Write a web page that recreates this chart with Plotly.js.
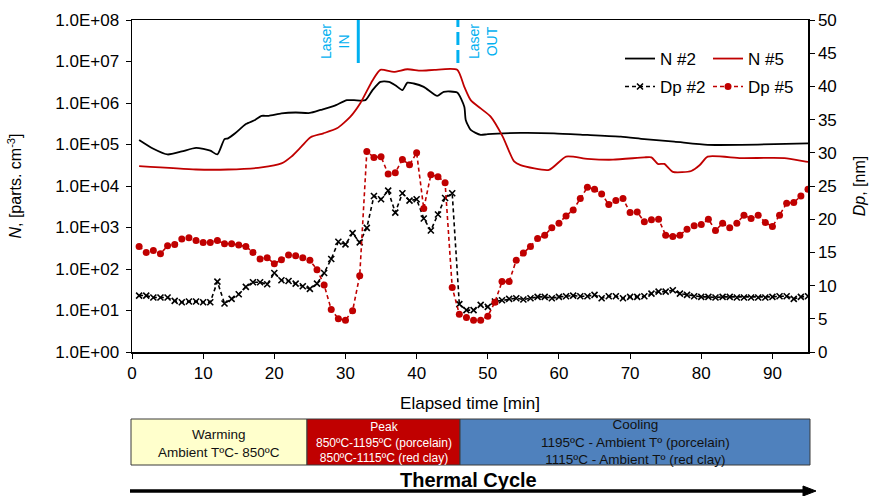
<!DOCTYPE html>
<html><head><meta charset="utf-8">
<script src="https://cdn.plot.ly/plotly-3.0.1.min.js"></script>
<style>html,body{margin:0;padding:0;background:#fff}#chart{width:880px;height:496px}</style>
</head><body><div id="chart"></div>
<script>
// ---- data ----
const timeDp = Array.from({length: 95}, (_, i) => i + 1);
const dp2 = [8.5,8.5,8.2,8.2,8.2,7.7,7.5,7.6,7.6,7.5,7.5,10.6,7.3,8.0,8.7,9.8,10.5,10.5,10.2,11.9,
  10.8,10.7,10.3,9.9,9.5,10.3,11.9,14.0,16.6,16.2,17.9,16.5,18.7,23.5,23.0,24.3,21.0,23.9,22.8,23.0,
  20.1,18.3,20.7,23.2,23.9,7.2,6.3,6.3,7.1,6.8,7.6,7.8,8.0,
  8.1,7.9,8.1,8.3,8.3,8.1,8.3,8.4,8.5,8.4,8.4,8.6,8.1,8.4,8.4,8.1,8.3,8.3,8.4,8.8,9.1,9.1,9.3,8.8,
  8.6,8.4,8.3,8.3,8.2,8.3,8.3,8.2,8.2,8.2,8.2,8.2,8.3,8.4,8.4,8.0,8.3,8.4];
const dp5 = [15.9,15.0,15.3,14.8,16.0,16.2,17.0,17.2,16.8,16.5,16.5,16.8,16.3,16.3,16.1,15.9,15.0,14.0,14.2,13.3,
  13.9,14.6,14.5,14.2,13.8,12.4,10.1,6.4,5.0,4.8,6.2,11.5,30.2,29.3,29.4,26.8,27.0,29.0,28.2,30.0,
  21.6,26.7,26.4,25.5,9.7,5.7,5.2,4.8,4.8,5.4,7.5,10.6,10.6,13.8,14.9,15.9,17.1,17.6,18.7,19.4,
  20.5,21.4,23.1,24.8,24.5,23.8,22.2,22.8,23.1,21.0,21.1,19.6,19.9,20.0,17.6,17.4,17.6,18.5,19.0,19.2,
  20.0,18.3,19.4,18.7,19.4,20.6,20.1,20.6,19.5,18.9,20.6,22.4,22.5,23.5,24.5];
const timeN2 = [1,3,5,7,9,11,12,13,13.5,14.5,16,17.3,18.2,19.2,21,23,25,26.5,28.4,30.2,31.2,32.8,33.8,34.9,36.1,37,38,38.7,39.6,41,42.9,43.8,45.7,46.7,46.9,47.6,49,50,54.6,59.3,64,68.7,72,76.2,80.9,85.6,90.3,95];
const n2 = [1.29e5,7.9e4,5.75e4,6.8e4,8.3e4,7.1e4,5.75e4,1.35e5,1.41e5,1.86e5,3.1e5,3.9e5,4.9e5,4.9e5,5.6e5,5.9e5,5.75e5,6.8e5,8.5e5,1.17e6,1.17e6,1.17e6,2.04e6,3.24e6,3.24e6,2.69e6,2.04e6,3.09e6,2.95e6,2.45e6,1.48e6,1.86e6,1.78e6,8.1e5,3.9e5,2.24e5,1.7e5,1.78e5,1.9e5,1.86e5,1.7e5,1.55e5,1.35e5,1.17e5,9.8e4,9.8e4,1.02e5,1.07e5];
const timeN5 = [1,9,13.5,18.2,21,22.4,23.8,25.1,26.9,28.8,30.7,32.1,33.8,34.9,36.8,38.7,40.6,42.5,45.7,46.7,47.6,49,50.4,52.1,53.7,54.6,58.6,61,64,67.6,72,73,73.9,74.8,76,78.6,79.8,80.9,85.6,91.7,94.5,95];
const n5 = [3.0e4,2.5e4,2.5e4,2.8e4,3.5e4,5.1e4,8.9e4,1.5e5,1.86e5,2.45e5,4.7e5,1.0e6,3.5e6,6.3e6,5.6e6,6.5e6,6.0e6,6.3e6,6.3e6,2.45e6,1.17e6,7.4e5,4.7e5,1.55e5,3.9e4,3.2e4,2.45e4,5.1e4,4.5e4,4.3e4,4.9e4,4.9e4,3.4e4,3.4e4,2.2e4,2.3e4,3.2e4,5.1e4,4.7e4,4.7e4,3.9e4,3.8e4];
const yTickVals = [1,10,100,1e3,1e4,1e5,1e6,1e7,1e8];
const yTickText = ['1.0E+00','1.0E+01','1.0E+02','1.0E+03','1.0E+04','1.0E+05','1.0E+06','1.0E+07','1.0E+08'];
const xTickVals = [0,10,20,30,40,50,60,70,80,90];
const y2TickVals = [0,5,10,15,20,25,30,35,40,45,50];
const seriesNames = ['N #2','N #5','Dp #2','Dp #5'];
const laserIn = 31.8, laserOut = 45.8;

const RED = '#C00000', CYAN = '#00B0F0';
const FONT = 'Liberation Sans, Arial, sans-serif';

const traces = [
  {x: timeN2, y: n2, name: seriesNames[0], mode: 'lines', line: {color: '#000', width: 1.8, shape: 'spline', smoothing: 0.6}, yaxis: 'y', legend: 'legend'},
  {x: timeN5, y: n5, name: seriesNames[1], mode: 'lines', line: {color: RED, width: 1.8, shape: 'spline', smoothing: 0.6}, yaxis: 'y', legend: 'legend2'},
  {x: timeDp, y: dp2, name: seriesNames[2], mode: 'lines+markers', line: {color: '#000', width: 1.6, dash: '4px,3px'},
   marker: {symbol: 'x-thin', size: 6, color: '#000', line: {color: '#000', width: 1.6}}, yaxis: 'y2', legend: 'legend3'},
  {x: timeDp, y: dp5, name: seriesNames[3], mode: 'lines+markers', line: {color: RED, width: 1.6, dash: '4px,3px'},
   marker: {symbol: 'circle', size: 7, color: RED}, yaxis: 'y2', legend: 'legend4'}
];

const L = 132, R = 808, T = 20, B = 352; // pixel frame for helpers
const px = v => (v - L) / (R - L);
const py = v => (B - v) / (B - T);

const shapes = [
  {type: 'line', xref: 'x', yref: 'paper', x0: laserIn, x1: laserIn, y0: py(63), y1: 1, line: {color: CYAN, width: 3}},
  {type: 'line', xref: 'x', yref: 'paper', x0: laserOut, x1: laserOut, y0: py(63), y1: 1, line: {color: CYAN, width: 3, dash: '13px,5px'}},
  {type: 'rect', xref: 'paper', yref: 'paper', x0: px(131), x1: px(307), y0: py(465), y1: py(419), fillcolor: '#FFFFCC', line: {color: '#3a3a3a', width: 1}},
  {type: 'rect', xref: 'paper', yref: 'paper', x0: px(307), x1: px(460), y0: py(465), y1: py(419), fillcolor: '#C00000', line: {color: '#3a3a3a', width: 1}},
  {type: 'rect', xref: 'paper', yref: 'paper', x0: px(460), x1: px(810), y0: py(465), y1: py(419), fillcolor: '#4F81BD', line: {color: '#3a3a3a', width: 1}},
  {type: 'line', xref: 'paper', yref: 'paper', x0: px(130), x1: px(806), y0: py(491), y1: py(491), line: {color: '#000', width: 3.5}},
  {type: 'path', xref: 'paper', yref: 'paper', path: `M ${px(803)} ${py(486)} L ${px(816)} ${py(491)} L ${px(803)} ${py(496)} Z`, fillcolor: '#000', line: {color: '#000', width: 1}}
];

const ann = (x, y, text, size, color, extra) => Object.assign({xref: 'paper', yref: 'paper', x: px(x), y: py(y), text: text,
  showarrow: false, xanchor: 'center', yanchor: 'middle', font: {family: FONT, size: size, color: color}}, extra || {});

const annotations = [
  ann(335, 42, 'Laser<br>IN', 14, CYAN, {textangle: -90}),
  ann(483, 42, 'Laser<br>OUT', 14, CYAN, {textangle: -90}),
  ann(219, 443, 'Warming<br>Ambient TºC- 850ºC', 13.5, '#111'),
  ann(383.5, 442, 'Peak<br>850ºC-1195ºC (porcelain)<br>850ºC-1115ºC (red clay)', 12, '#fff'),
  ann(635, 442, 'Cooling<br>1195ºC - Ambient Tº (porcelain)<br>1115ºC - Ambient Tº (red clay)', 13.5, '#111'),
  ann(468, 480, '<b>Thermal Cycle</b>', 20, '#000')
];

const axisCommon = {showline: true, linecolor: '#000', linewidth: 1.5, ticks: 'outside', ticklen: 5, tickcolor: '#000', showgrid: false, zeroline: false,
  tickfont: {family: FONT, size: 17, color: '#000'}};

const legendAt = (x, y) => ({orientation: 'v', x: px(x), y: py(y), xanchor: 'left', yanchor: 'middle',
  bgcolor: 'rgba(0,0,0,0)', borderwidth: 0, font: {family: FONT, size: 17, color: '#000'}});

const layout = {
  width: 880, height: 496,
  margin: {l: L, r: 880 - R, t: T, b: 496 - B},
  paper_bgcolor: '#fff', plot_bgcolor: '#fff',
  font: {family: FONT, size: 17, color: '#000'},
  xaxis: Object.assign({}, axisCommon, {range: [0, 95], tickvals: xTickVals, mirror: true,
    title: {text: 'Elapsed time [min]', font: {family: FONT, size: 17, color: '#000'}, standoff: 15}}),
  yaxis: Object.assign({}, axisCommon, {type: 'log', range: [0, 8], tickvals: yTickVals, ticktext: yTickText, ticklabelstandoff: 3,
    title: {text: '<i>N</i>, [parts. cm<sup>-3</sup>]', font: {family: FONT, size: 16, color: '#000'}, standoff: 29}}),
  yaxis2: Object.assign({}, axisCommon, {overlaying: 'y', side: 'right', range: [0, 50], tickvals: y2TickVals,
    title: {text: '<i>Dp</i>, [nm]', font: {family: FONT, size: 16, color: '#000'}, standoff: 18}}),
  showlegend: true,
  legend: legendAt(620, 59),
  legend2: legendAt(708, 59),
  legend3: legendAt(620, 87),
  legend4: legendAt(708, 87),
  shapes: shapes,
  annotations: annotations
};

Plotly.newPlot('chart', traces, layout, {displayModeBar: false, staticPlot: true});
</script>
</body></html>
